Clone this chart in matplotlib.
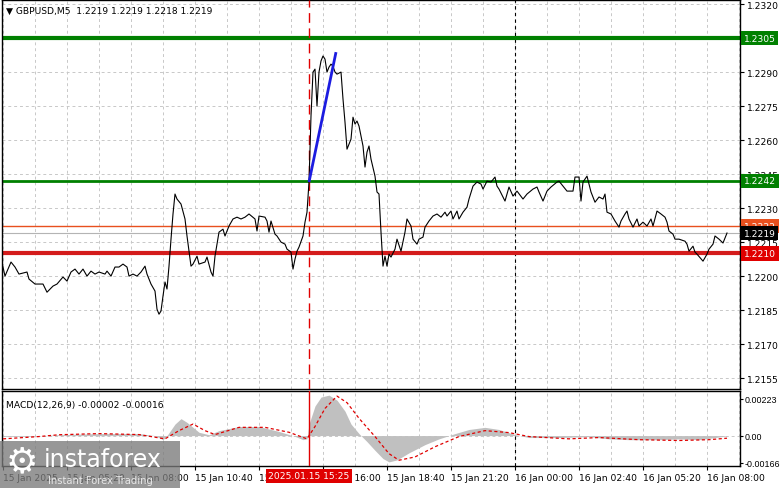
import matplotlib
matplotlib.use('Agg')
import matplotlib.pyplot as plt
import matplotlib.transforms as mtransforms
import matplotlib.patches as mpatches

plt.rcParams['font.family'] = ['DejaVu Sans']

# ---------------- data ----------------
bars = [0, 1, 4, 6, 8, 12, 13, 16, 20, 22, 25, 27, 30, 32, 34, 36, 38, 40, 42, 44, 46, 48, 51, 52, 54,
        56, 58, 60, 62, 63, 65, 67, 69, 71, 72, 74, 76, 77, 78, 79, 80, 81, 82, 83, 84, 85, 86, 87, 89,
        91, 92, 94, 95, 97, 98, 101, 102, 104, 105, 106, 107, 108, 110, 111, 113, 115, 117, 119, 121,
        123, 126, 127, 128, 131, 132, 133, 134, 136, 137, 139, 141, 142, 144, 145, 146, 147, 148, 150,
        151, 152, 153, 154, 155, 156, 157, 158, 159, 160, 161, 162, 163, 164, 165, 166, 167, 169, 170,
        171, 172, 174, 175, 176, 177, 178, 180, 181, 182, 183, 184, 186, 187, 188, 189, 190, 191, 192,
        193, 194, 196, 197, 199, 201, 202, 204, 205, 207, 208, 210, 211, 213, 215, 217, 219, 221, 222,
        224, 225, 227, 228, 230, 232, 233, 235, 237, 239, 240, 242, 244, 246, 247, 248, 251, 253, 255,
        257, 260, 262, 265, 267, 268, 270, 272, 274, 277, 278, 280, 282, 285, 286, 288, 289, 290, 292,
        293, 294, 296, 298, 300, 301, 302, 304, 306, 308, 309, 311, 312, 313, 315, 317, 318, 320, 322,
        324, 325, 327, 329, 331, 332, 333, 335, 336, 338, 341, 342, 343, 345, 346, 347, 350, 352, 353,
        355, 356, 358, 360, 362]
close = [1.22040, 1.22000, 1.22062, 1.22040, 1.22009, 1.22018, 1.21987, 1.21965, 1.21965, 1.21929,
         1.21956, 1.21965, 1.21996, 1.21978, 1.22018, 1.22031, 1.22009, 1.22031, 1.22000, 1.22022,
         1.22009, 1.22018, 1.22009, 1.22022, 1.22000, 1.22040, 1.22040, 1.22053, 1.22040, 1.22000,
         1.22009, 1.22000, 1.22018, 1.22044, 1.22009, 1.21965, 1.21934, 1.21854, 1.21832, 1.21846,
         1.21912, 1.21974, 1.21943, 1.22044, 1.22163, 1.22274, 1.22362, 1.22340, 1.22318, 1.22252,
         1.22177, 1.22044, 1.22053, 1.22088, 1.22053, 1.22062, 1.22084, 1.22018, 1.22000, 1.22088,
         1.22141, 1.22194, 1.22207, 1.22177, 1.22221, 1.22252, 1.22260, 1.22252, 1.22260, 1.22274,
         1.22252, 1.22199, 1.22265, 1.22260, 1.22243, 1.22194, 1.22243, 1.22185, 1.22177, 1.22150,
         1.22141, 1.22119, 1.22106, 1.22031, 1.22075, 1.22110, 1.22128, 1.22177, 1.22238, 1.22282,
         1.22415, 1.22706, 1.22900, 1.22913, 1.22750, 1.22900, 1.22949, 1.22971, 1.22957, 1.22900,
         1.22922, 1.22935, 1.22926, 1.22900, 1.22891, 1.22900, 1.22781, 1.22679, 1.22560, 1.22604,
         1.22701, 1.22671, 1.22684, 1.22662, 1.22574, 1.22481, 1.22547, 1.22574, 1.22516, 1.22441,
         1.22371, 1.22362, 1.22194, 1.22044, 1.22088, 1.22044, 1.22097, 1.22084, 1.22119, 1.22163,
         1.22110, 1.22194, 1.22252, 1.22221, 1.22163, 1.22141, 1.22163, 1.22172, 1.22216, 1.22243,
         1.22265, 1.22274, 1.22260, 1.22282, 1.22265, 1.22287, 1.22252, 1.22287, 1.22252, 1.22282,
         1.22304, 1.22340, 1.22397, 1.22415, 1.22406, 1.22384, 1.22419, 1.22415, 1.22437, 1.22397,
         1.22384, 1.22331, 1.22393, 1.22353, 1.22375, 1.22340, 1.22362, 1.22384, 1.22393, 1.22371,
         1.22331, 1.22375, 1.22393, 1.22415, 1.22419, 1.22397, 1.22375, 1.22375, 1.22437, 1.22437,
         1.22331, 1.22415, 1.22441, 1.22406, 1.22371, 1.22326, 1.22349, 1.22340, 1.22362, 1.22282,
         1.22274, 1.22243, 1.22216, 1.22243, 1.22274, 1.22287, 1.22252, 1.22216, 1.22252, 1.22221,
         1.22238, 1.22221, 1.22252, 1.22221, 1.22287, 1.22274, 1.22260, 1.22238, 1.22199, 1.22185,
         1.22163, 1.22163, 1.22154, 1.22141, 1.22110, 1.22132, 1.22106, 1.22097, 1.22066, 1.22097,
         1.22119, 1.22141, 1.22177, 1.22163, 1.22146, 1.22190]

macd_bars = [0, 13, 28, 48, 68, 76, 80, 82, 86, 89, 92, 98, 103, 108, 118, 128, 138, 146, 150, 152,
             153, 156, 159, 163, 167, 171, 174, 178, 182, 186, 190, 193, 197, 203, 211, 218, 226, 233,
             241, 248, 256, 263, 278, 293, 303, 313, 328, 338, 348, 356, 362]
macd_vals = [-0.00005, -0.00005, 0.00005, 0.00012, 0.00012, 0.0, -0.00025, 0.0, 0.0007, 0.00103,
             0.0008, 0.0002, 0.00005, 0.0003, 0.00055, 0.00055, 0.00025, -0.00005, -0.00025, -0.0002,
             0.0007, 0.0018, 0.00234, 0.00246, 0.00215, 0.00148, 0.0007, 0.00012, -0.00037, -0.0009,
             -0.0014, -0.0016, -0.00148, -0.00105, -0.00055, -0.0002, 0.00012, 0.00037, 0.0005,
             0.00037, 0.00006, -0.00012, -0.00012, -0.00006, -0.0002, -0.00025, -0.00025, -0.0002,
             -0.00025, -0.00012, -0.00002]
sig_bars = [0, 18, 28, 48, 68, 81, 88, 95, 101, 106, 118, 131, 143, 152, 156, 161, 167, 172, 178, 186,
            193, 198, 206, 216, 228, 241, 253, 263, 283, 298, 318, 338, 353, 362]
sig_vals = [-0.0002, -0.00006, 0.00005, 0.00012, 0.00006, -0.0002, 0.0003, 0.0007, 0.0003, 0.00006,
            0.0005, 0.0005, 0.0002, -0.0002, 0.00055, 0.00165, 0.0024, 0.002, 0.00105, -0.00006,
            -0.0011, -0.0015, -0.0013, -0.00068, -0.00006, 0.0003, 0.00018, -0.00006, -0.0002,
            -0.00012, -0.00025, -0.0003, -0.00025, -0.00016]

price_ticks = [1.2320, 1.2290, 1.2275, 1.2260, 1.2245, 1.2230, 1.2215, 1.2200, 1.2185, 1.2170, 1.2155]
grid_prices = price_ticks + [1.2305]
time_tick_bars = [0, 32, 64, 96, 128, 160, 192, 224, 256, 288, 320, 352]
time_tick_labels = ['15 Jan 2025', '15 Jan 05:20', '15 Jan 08:00', '15 Jan 10:40', '15 Jan 13:20',
                    '15 Jan 16:00', '15 Jan 18:40', '15 Jan 21:20', '16 Jan 00:00', '16 Jan 02:40',
                    '16 Jan 05:20', '16 Jan 08:00']
macd_ticks = [0.00223, 0.0, -0.00166]
macd_tick_labels = ['0.00223', '0.00', '-0.00166']

levels = [1.2305, 1.2242, 1.2222, 1.2219, 1.2210]
level_labels = ['1.2305', '1.2242', '1.2222', '1.2219', '1.2210']
level_colors = ['#008000', '#008000', '#e8501e', '#b4b4b4', '#d41c1c']
level_box_colors = ['#008000', '#008000', '#e8501e', '#000000', '#e00000']
level_widths = [3.0, 2.0, 1.0, 0.8, 3.0]

trend_bars = [153, 166.5]
trend_prices = [1.22415, 1.22988]
event_bar = 153
day_bar = 256

title_text = '\u25bc GBPUSD,M5  1.2219 1.2219 1.2218 1.2219'
macd_title = 'MACD(12,26,9) -0.00002 -0.00016'
event_label = '2025.01.15 15:25'

# ---------------- figure ----------------
W, H = 781, 489
fig = plt.figure(figsize=(W / 100, H / 100), dpi=100)
fig.patch.set_facecolor('white')


def box(x0, y0, x1, y1):
    return [x0 / W, 1 - y1 / H, (x1 - x0) / W, (y1 - y0) / H]


ax = fig.add_axes(box(2, 1, 740, 390))
axm = fig.add_axes(box(2, 392, 740, 467))

FS = 6.6
grid_kw = dict(color='#c8c8c8', lw=0.7, ls=(0, (3, 3)), zorder=0)

for a in (ax, axm):
    a.set_xlim(-0.5, 368.5)
    for b in range(0, 369, 16):
        a.axvline(b, **grid_kw)
    for s in a.spines.values():
        s.set_color('black')
        s.set_linewidth(1.0)

# main panel
ax.set_ylim(1.21502, 1.23218)
for p in grid_prices:
    ax.axhline(p, **grid_kw)
ax.yaxis.tick_right()
ax.set_yticks(price_ticks)
ax.set_yticklabels([f'{p:.4f}' for p in price_ticks])
ax.tick_params(axis='y', direction='out', length=3, pad=2, labelsize=FS, width=0.8)
ax.set_xticks([])

for p, c, w in zip(levels, level_colors, level_widths):
    ax.axhline(p, color=c, lw=w, zorder=2)

ax.axvline(event_bar, color='#e00000', lw=1.0, ls=(0, (7, 4)), zorder=3)
ax.axvline(day_bar, color='black', lw=0.8, ls=(0, (3, 3)), zorder=1)

ax.plot(bars, close, color='black', lw=0.8, zorder=4)
ax.plot(trend_bars, trend_prices, color='#1c1ce0', lw=2.0, zorder=5, solid_capstyle='butt')

trans = mtransforms.blended_transform_factory(ax.transAxes, ax.transData)
off = mtransforms.ScaledTranslation(4 / 100, 0, fig.dpi_scale_trans)
for p, lab, bc in zip(levels, level_labels, level_box_colors):
    ax.text(1.0, p, lab, transform=trans + off, ha='left', va='center', fontsize=FS,
            color='white', zorder=10, clip_on=False,
            bbox=dict(boxstyle='square,pad=0.28', fc=bc, ec='none'))

ax.text(0.006, 0.986, title_text, transform=ax.transAxes, ha='left', va='top',
        fontsize=FS, color='black', zorder=10)

# MACD panel
axm.set_ylim(-0.00185, 0.00271)
axm.axhline(0, **grid_kw)
axm.fill_between(macd_bars, 0, macd_vals, color='#c0c0c0', lw=0, zorder=2)
axm.plot(sig_bars, sig_vals, color='#e00000', lw=0.9, ls=(0, (2.5, 2)), zorder=3)
axm.axvline(event_bar, color='#e00000', lw=1.0, zorder=3)
axm.axvline(day_bar, color='black', lw=0.8, ls=(0, (3, 3)), zorder=1)
axm.yaxis.tick_right()
axm.set_yticks(macd_ticks)
axm.set_yticklabels(macd_tick_labels)
axm.tick_params(axis='y', direction='out', length=2.5, pad=1.0, labelsize=6.4, width=0.8)
for lab in axm.get_yticklabels():
    lab.set_family(['Liberation Sans', 'DejaVu Sans'])
axm.set_xticks(time_tick_bars)
axm.set_xticklabels(time_tick_labels)
axm.tick_params(axis='x', direction='out', length=3, pad=2, labelsize=FS, width=0.8)
for lab in axm.get_xticklabels():
    lab.set_horizontalalignment('left')
axm.text(0.006, 0.88, macd_title, transform=axm.transAxes, ha='left', va='top',
         fontsize=FS, color='black', zorder=10)

# event time label on the time axis
fig.text(309 / W, 1 - 477 / H, event_label, ha='center', va='center', fontsize=FS,
         color='white', zorder=20,
         bbox=dict(boxstyle='square,pad=0.25', fc='#e00000', ec='none'))

# watermark logo
fig.patches.append(mpatches.Rectangle((0, 0), 180 / W, 47 / H, transform=fig.transFigure,
                                      fc='#7a7a7a', ec='none', alpha=0.78, zorder=30))
fig.text(22 / W, 1 - 462 / H, '\u2699', ha='center', va='center', fontsize=26,
         color='white', zorder=31)
fig.text(44 / W, 1 - 460 / H, 'instaforex', ha='left', va='center', fontsize=17,
         color='white', zorder=31)
fig.text(48 / W, 1 - 481 / H, 'Instant Forex Trading', ha='left', va='center', fontsize=7.2,
         color='#e6e6e6', zorder=31)

fig.savefig('out.png', dpi=100, facecolor='white')
